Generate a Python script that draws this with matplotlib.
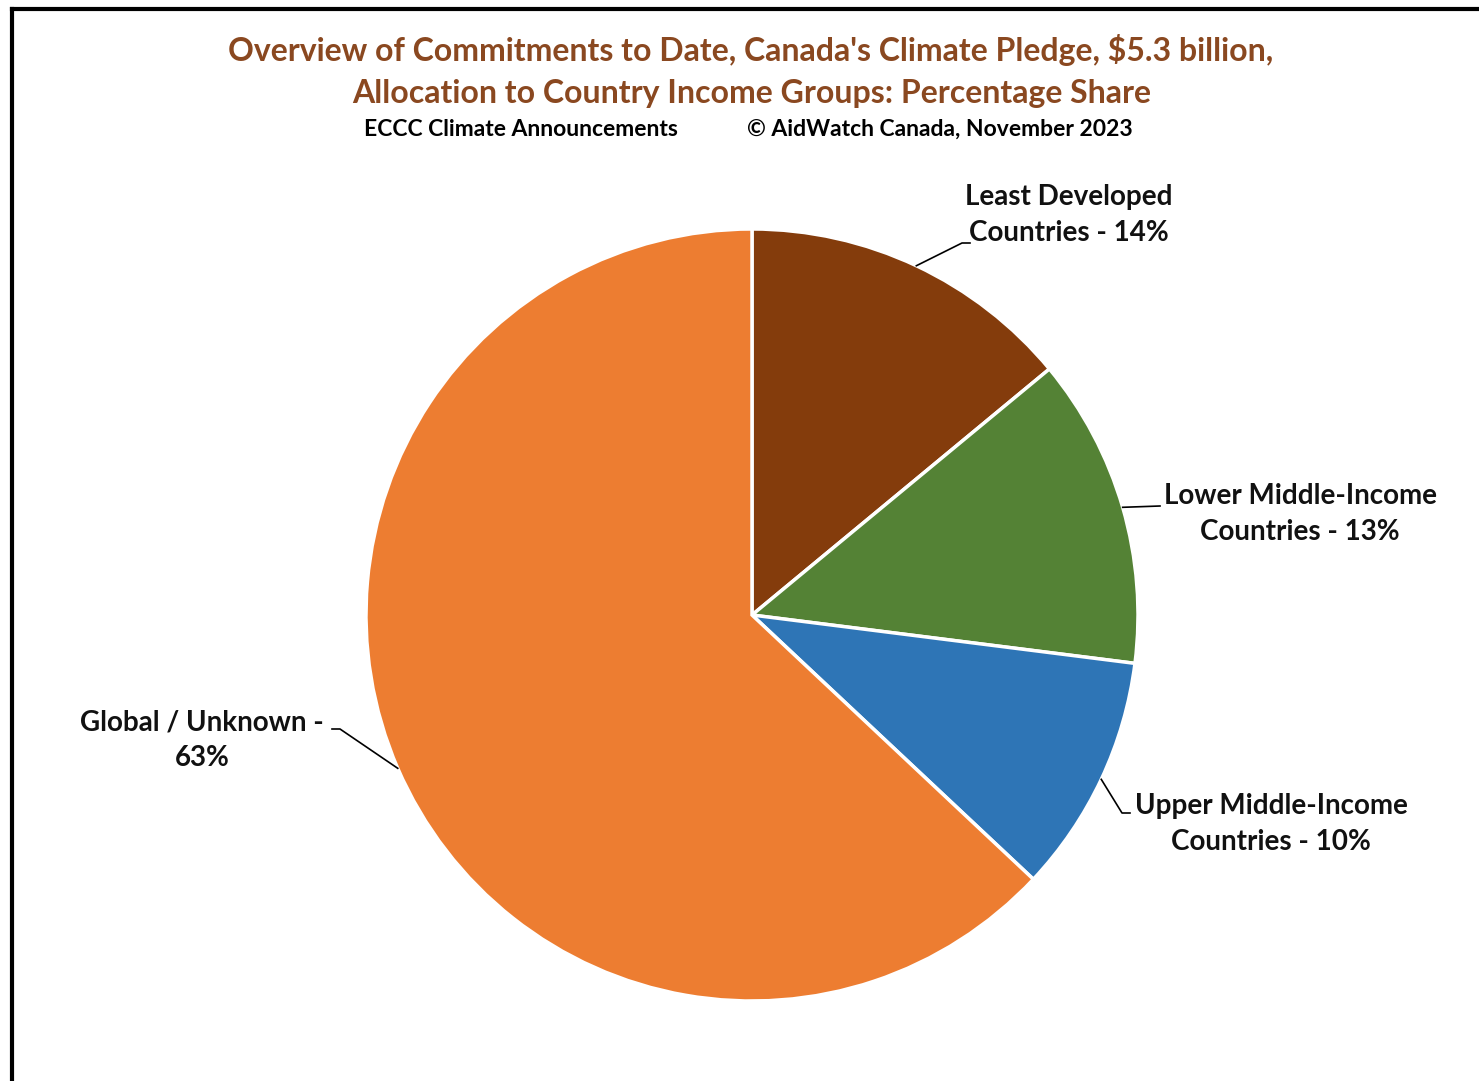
import numpy as np
import matplotlib
matplotlib.use("Agg")
import matplotlib.pyplot as plt
from matplotlib.lines import Line2D

# Income-group shares of the commitments (percent)
groups = ["Least Developed\nCountries", "Lower Middle-Income\nCountries",
          "Upper Middle-Income\nCountries", "Global / Unknown"]
shares = [14, 13, 10, 63]
colors = ["#843C0C", "#548235", "#2E75B6", "#ED7D31"]

title_lines = ["Overview of Commitments to Date, Canada's Climate Pledge, $5.3 billion,",
               "Allocation to Country Income Groups: Percentage Share"]
sub_left = "ECCC Climate Announcements"
sub_right = "\u00a9 AidWatch Canada, November 2023"

W, H = 1479, 1081
FONT = "Lato"
fig = plt.figure(figsize=(W / 100, H / 100), dpi=100)

# pie geometry in pixels
cx, cy, R = 752, 615, 386
ax = fig.add_axes([(cx - R) / W, 1 - (cy + R) / H, 2 * R / W, 2 * R / H])

wedges, _ = ax.pie(shares, colors=colors, startangle=90, counterclock=False,
                   radius=1.0, wedgeprops=dict(edgecolor="white", linewidth=2.5))
ax.set_xlim(-1, 1)
ax.set_ylim(-1, 1)
ax.set_aspect("equal")
ax.axis("off")


def px(x, y):
    """Convert image pixel position to pie data coordinates."""
    return (x - cx) / R, (cy - y) / R


# label placement: (text centre x, centre y, leader path points in px)
label_pos = [
    (1069, 215, [(918, 265), (962, 243), (970, 243)]),
    (1300, 514, [(1125, 506), (1160, 506)]),
    (1271, 824, [(1102, 780), (1122, 813), (1130, 813)]),
    (202, 740, [(397, 768), (340, 729), (332, 729)]),
]
label_texts = [f"{g} - {s}%" for g, s in zip(groups, shares)]
label_texts[3] = "Global / Unknown -\n63%"

for w, txt, (tx, ty, path) in zip(wedges, label_texts, label_pos):
    ang = np.deg2rad((w.theta1 + w.theta2) / 2)
    ex, ey = np.cos(ang), np.sin(ang)
    pts = [(ex, ey)] + [px(*p) for p in path[1:]]
    xs, ys = zip(*pts)
    ax.add_line(Line2D(xs, ys, color="black", lw=1.2, clip_on=False))
    lx, ly = px(tx, ty)
    ax.text(lx, ly, txt, ha="center", va="center", fontsize=20,
            fontweight="bold", family=FONT, color="#111111",
            linespacing=1.45)

# titles
title_color = "#8A4820"
fig.text(751 / W, 1 - 50 / H, title_lines[0], ha="center", va="center",
         fontsize=23, fontweight="bold", family=FONT, color=title_color)
fig.text(752 / W, 1 - 93 / H, title_lines[1], ha="center", va="center",
         fontsize=23, fontweight="bold", family=FONT, color=title_color)
fig.text(521 / W, 1 - 129 / H, sub_left, ha="center", va="center",
         fontsize=16.5, fontweight="bold", family=FONT, color="black")
fig.text(940 / W, 1 - 129 / H, sub_right, ha="center", va="center",
         fontsize=16.5, fontweight="bold", family=FONT, color="black")

# frame on left and top
fig.add_artist(Line2D([12 / W, 12 / W], [0, 1 - 9 / H], color="black", lw=3,
                      transform=fig.transFigure))
fig.add_artist(Line2D([12 / W, 1], [1 - 9 / H, 1 - 9 / H], color="black", lw=3,
                      transform=fig.transFigure))

fig.savefig("out.png", dpi=100)
